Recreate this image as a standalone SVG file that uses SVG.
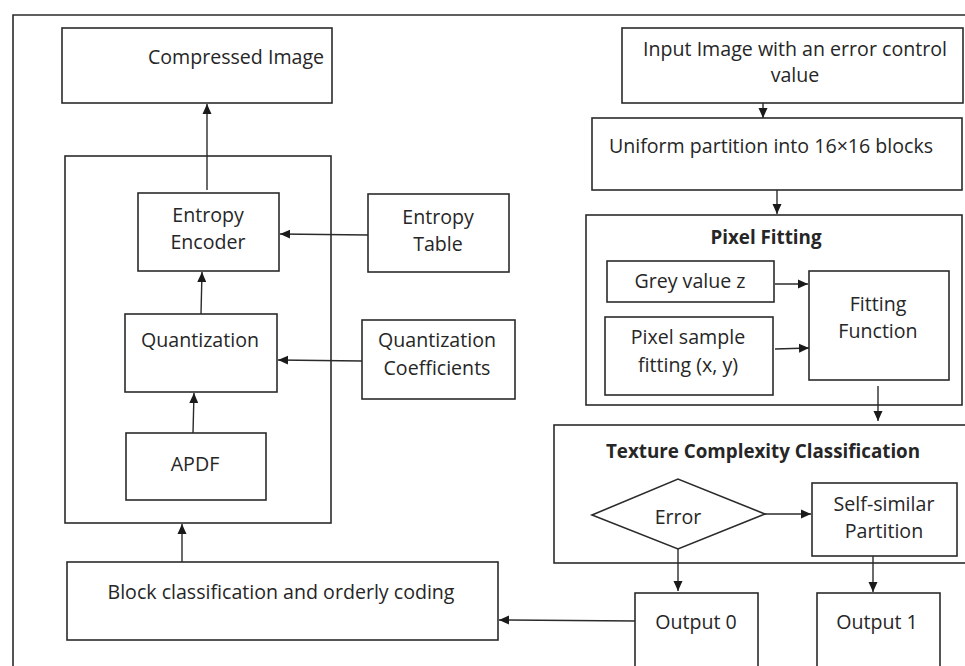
<svg xmlns="http://www.w3.org/2000/svg" width="965" height="666" viewBox="0 0 965 666">
<defs>
<style>
.b{fill:#fff;stroke:#2b2b2b;stroke-width:1.6}
.f{fill:none;stroke:#2b2b2b;stroke-width:1.6}
.c{fill:none;stroke:#2b2b2b;stroke-width:1.4}
text{font-family:"Open Sans","Liberation Sans",sans-serif;font-size:19.6px;fill:#262626;text-anchor:middle}
.t{font-weight:bold;font-size:18.8px}
</style>
<marker id="ah" markerUnits="userSpaceOnUse" markerWidth="10" markerHeight="10" viewBox="0 0 10 10" refX="10" refY="5" orient="auto">
<path d="M0,0.5 L10,5 L0,9.5 Z" fill="#1a1a1a"/>
</marker>
</defs>
<rect width="965" height="666" fill="#fff"/>
<path class="f" d="M13,670 V15 H970"/>

<g id="compressed"><rect class="b" x="62" y="28" width="270" height="75"/><text x="236" y="64">Compressed Image</text></g>
<g id="encoderGroup"><rect class="b" x="65" y="156" width="266" height="367"/></g>
<g id="entropyEncoder"><rect class="b" x="138" y="193" width="141" height="78"/><text x="208" y="222">Entropy</text><text x="208" y="249">Encoder</text></g>
<g id="entropyTable"><rect class="b" x="368" y="194" width="141" height="78"/><text x="438" y="224">Entropy</text><text x="438" y="251">Table</text></g>
<g id="quantization"><rect class="b" x="125" y="314" width="152" height="78"/><text x="200" y="347">Quantization</text></g>
<g id="coefficients"><rect class="b" x="362" y="320" width="153" height="79"/><text x="437" y="347">Quantization</text><text x="437" y="375">Coefficients</text></g>
<g id="apdf"><rect class="b" x="126" y="433" width="140" height="67"/><text x="195" y="471">APDF</text></g>
<g id="blockCoding"><rect class="b" x="67" y="562" width="431" height="78"/><text x="281" y="599">Block classification and orderly coding</text></g>

<g id="input"><rect class="b" x="622" y="28" width="341" height="75"/><text x="795" y="56">Input Image with an error control</text><text x="795" y="82">value</text></g>
<g id="uniform"><rect class="b" x="592" y="118" width="370" height="72"/><text x="771" y="153">Uniform partition into 16×16 blocks</text></g>
<g id="pixelFitting"><rect class="b" x="586" y="215" width="376" height="190"/><text class="t" x="766" y="244">Pixel Fitting</text></g>
<g id="grey"><rect class="b" x="607" y="261" width="167" height="41"/><text x="690" y="288">Grey value z</text></g>
<g id="sample"><rect class="b" x="605" y="317" width="168" height="78"/><text x="688" y="344">Pixel sample</text><text x="688" y="372">fitting (x, y)</text></g>
<g id="fittingFunction"><rect class="b" x="809" y="271" width="140" height="109"/><text x="878" y="311">Fitting</text><text x="878" y="338">Function</text></g>
<g id="texture"><rect class="b" x="554" y="425" width="420" height="138"/><text class="t" x="763" y="458">Texture Complexity Classification</text></g>
<g id="error"><polygon class="b" points="592,515 678,479 765,514 678,549"/><text x="678" y="524">Error</text></g>
<g id="selfSimilar"><rect class="b" x="812" y="483" width="145" height="73"/><text x="884" y="511">Self-similar</text><text x="884" y="538">Partition</text></g>
<g id="output0"><rect class="b" x="635" y="593" width="123" height="90"/><text x="696" y="629">Output 0</text></g>
<g id="output1"><rect class="b" x="817" y="593" width="123" height="90"/><text x="877" y="629">Output 1</text></g>

<g id="connectors">
<line class="c" x1="207" y1="190" x2="207" y2="104" marker-end="url(#ah)"/>
<line class="c" x1="368" y1="235" x2="280" y2="234" marker-end="url(#ah)"/>
<line class="c" x1="201" y1="314" x2="202" y2="272" marker-end="url(#ah)"/>
<line class="c" x1="362" y1="361" x2="278" y2="360" marker-end="url(#ah)"/>
<line class="c" x1="193" y1="433" x2="194" y2="393" marker-end="url(#ah)"/>
<line class="c" x1="182" y1="562" x2="182" y2="524" marker-end="url(#ah)"/>
<line class="c" x1="635" y1="621" x2="499" y2="620" marker-end="url(#ah)"/>
<line class="c" x1="763" y1="103" x2="763" y2="118" marker-end="url(#ah)"/>
<line class="c" x1="777" y1="190" x2="777" y2="214" marker-end="url(#ah)"/>
<line class="c" x1="775" y1="284" x2="808" y2="284" marker-end="url(#ah)"/>
<line class="c" x1="775" y1="349" x2="809" y2="348" marker-end="url(#ah)"/>
<line class="c" x1="878" y1="386" x2="878" y2="421" marker-end="url(#ah)"/>
<line class="c" x1="765" y1="514" x2="811" y2="514" marker-end="url(#ah)"/>
<line class="c" x1="678" y1="549" x2="678" y2="591" marker-end="url(#ah)"/>
<line class="c" x1="873" y1="556" x2="873" y2="592" marker-end="url(#ah)"/>
</g>
</svg>
